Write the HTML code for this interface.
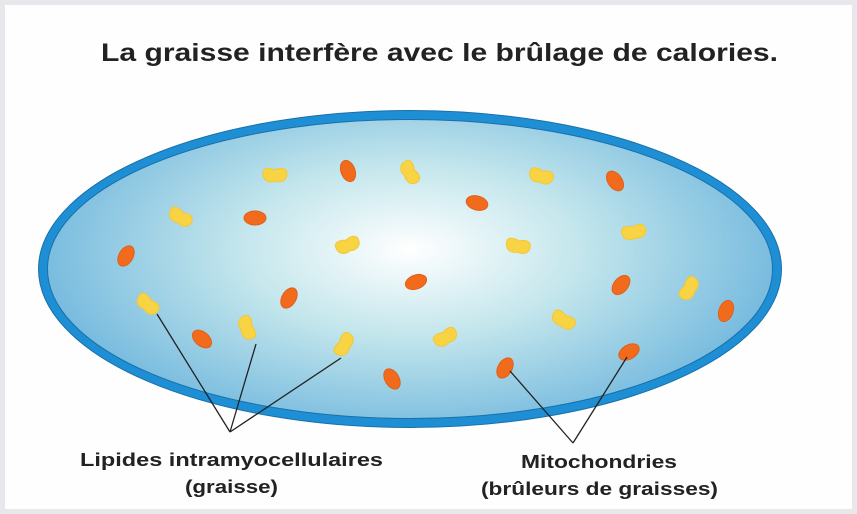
<!DOCTYPE html>
<html><head><style>
html,body{margin:0;padding:0;}
body{width:857px;height:514px;background:#e8e8ec;position:relative;overflow:hidden;font-family:"Liberation Sans",sans-serif;}
#card{position:absolute;left:5px;top:5px;width:847px;height:504px;background:#fdfefd;}
</style></head><body>
<div id="card"></div>
<svg width="857" height="514" style="position:absolute;left:0;top:0">
<defs>
<radialGradient id="g" cx="410" cy="250" r="380" gradientUnits="userSpaceOnUse" gradientTransform="translate(410 250) scale(1 0.5) translate(-410 -250)">
<stop offset="0" stop-color="#ffffff"/>
<stop offset="0.45" stop-color="#c3e6ec"/>
<stop offset="1" stop-color="#74b9de"/>
</radialGradient>
<g id="o"><ellipse rx="11" ry="7" fill="#f26b1d" stroke="#e0601a" stroke-width="1"/></g>
<g id="y"><path d="M-12,-3 C-12,-9 -4,-8 0,-6 C4,-8 12,-9 12,-2 C12,5 5,7 0,5 C-4,7 -12,6 -12,-3 Z" fill="#f8d445" stroke="#f3c93a" stroke-width="1.2"/></g>
</defs>
<text x="101" y="61" textLength="677" lengthAdjust="spacingAndGlyphs" font-family="Liberation Sans, sans-serif" font-weight="bold" font-size="25" fill="#222">La graisse interfère avec le brûlage de calories.</text>
<ellipse cx="410" cy="269" rx="367" ry="154" fill="url(#g)" stroke="#1e8fd5" stroke-width="9"/>
<ellipse cx="410" cy="269" rx="371.5" ry="158.5" fill="none" stroke="#1a70a8" stroke-width="1"/>
<ellipse cx="410" cy="269" rx="362.5" ry="149.5" fill="none" stroke="#1a70a8" stroke-width="1"/>
<use href="#o" transform="translate(348,171) rotate(70)"/>
<use href="#o" transform="translate(255,218) rotate(0)"/>
<use href="#o" transform="translate(477,203) rotate(15)"/>
<use href="#o" transform="translate(615,181) rotate(55)"/>
<use href="#o" transform="translate(126,256) rotate(-60)"/>
<use href="#o" transform="translate(416,282) rotate(-20)"/>
<use href="#o" transform="translate(289,298) rotate(-60)"/>
<use href="#o" transform="translate(202,339) rotate(40)"/>
<use href="#o" transform="translate(621,285) rotate(-50)"/>
<use href="#o" transform="translate(726,311) rotate(-70)"/>
<use href="#o" transform="translate(392,379) rotate(60)"/>
<use href="#o" transform="translate(505,368) rotate(-60)"/>
<use href="#o" transform="translate(629,352) rotate(-30)"/>
<use href="#y" transform="translate(275,176) rotate(0)"/>
<use href="#y" transform="translate(409,173) rotate(60)"/>
<use href="#y" transform="translate(541,177) rotate(15)"/>
<use href="#y" transform="translate(180,218) rotate(30)"/>
<use href="#y" transform="translate(348,246) rotate(-20)"/>
<use href="#y" transform="translate(518,247) rotate(10)"/>
<use href="#y" transform="translate(634,233) rotate(-10)"/>
<use href="#y" transform="translate(147,305) rotate(40)"/>
<use href="#y" transform="translate(246,328) rotate(70)"/>
<use href="#y" transform="translate(345,345) rotate(-60)"/>
<use href="#y" transform="translate(446,338) rotate(-30)"/>
<use href="#y" transform="translate(563,321) rotate(30)"/>
<use href="#y" transform="translate(690,289) rotate(-60)"/>
<g stroke="#222" stroke-width="1.3" fill="none">
<path d="M230,432 L157,314 M230,432 L256,344 M230,432 L341,358 M573,443 L510,371 M573,443 L627,357"/>
</g>
<g font-family="Liberation Sans, sans-serif" font-weight="bold" font-size="18" fill="#222" lengthAdjust="spacingAndGlyphs">
<text x="80" y="466" textLength="303" lengthAdjust="spacingAndGlyphs">Lipides intramyocellulaires</text>
<text x="185" y="493" textLength="93" lengthAdjust="spacingAndGlyphs">(graisse)</text>
<text x="521" y="468" textLength="156" lengthAdjust="spacingAndGlyphs">Mitochondries</text>
<text x="481" y="495" textLength="237" lengthAdjust="spacingAndGlyphs">(brûleurs de graisses)</text>
</g>
</svg>
</body></html>
